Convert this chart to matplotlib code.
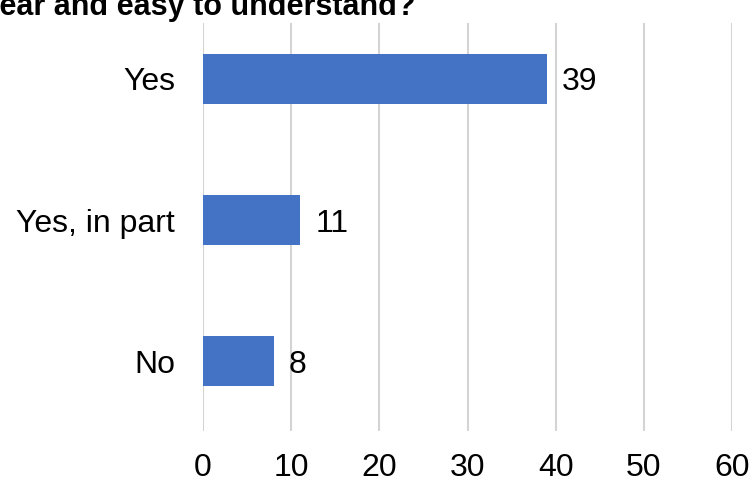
import numpy as np
import matplotlib.pyplot as plt

plt.rcParams['font.family'] = ['Liberation Sans', 'DejaVu Sans']

respostas = ['Yes', 'Yes, in part', 'No']
contagens = [39, 11, 8]
ticks_x = [0, 10, 20, 30, 40, 50, 60]
titulo = 'clear and easy to understand?'

fig = plt.figure(figsize=(7.51, 4.84), dpi=100)
ax = fig.add_axes([203 / 751, 53 / 484, 529 / 751, 408 / 484])

pos = np.arange(len(respostas))
barras = ax.barh(pos, contagens, height=0.35, color='#4472C4', zorder=3)

# rotulos de valor ao lado de cada barra
for b, v in zip(barras, contagens):
    ax.annotate(str(v), (b.get_width(), b.get_y() + b.get_height() / 2),
                xytext=(11, 0), textcoords='offset points',
                ha='left', va='center_baseline', fontsize=23, color='#000000')

ax.set_xlim(0, 60)
ax.set_ylim(2.496, -0.397)
ax.set_xticks(ticks_x)
ax.set_yticks(pos)
ax.set_yticklabels(respostas, va='center_baseline')
ax.tick_params(axis='both', length=0, labelsize=23, colors='#000000')
ax.tick_params(axis='y', pad=20)
ax.tick_params(axis='x', pad=16)

ax.grid(axis='x', color='#d4d4d4', linewidth=1.5, zorder=0)
ax.set_axisbelow(True)
for s in ax.spines.values():
    s.set_visible(False)

fig.text(415 / 751, 1 - 15 / 484, titulo, ha='right', va='baseline',
         fontsize=22, fontweight='bold', color='#000000')

fig.savefig('out.png', dpi=100)
